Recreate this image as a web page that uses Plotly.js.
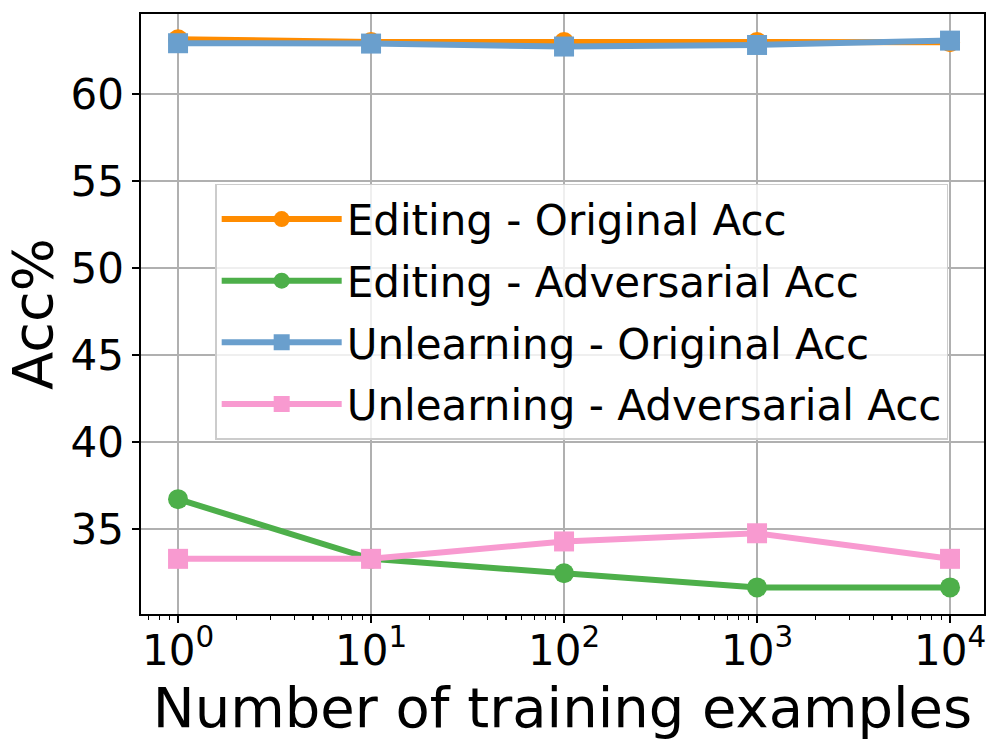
<!DOCTYPE html>
<html>
<head>
<meta charset="utf-8">
<script src="https://cdn.plot.ly/plotly-3.0.1.min.js"></script>
<style>
  html, body { margin: 0; padding: 0; background: #ffffff; }
  #chart { width: 997px; height: 742px; }
</style>
</head>
<body>
<div id="chart"></div>
<script>
// ---- data ----
const trainingExamples = [1, 10, 100, 1000, 10000];
const editingOriginal = [63.16, 63.0, 63.0, 63.0, 62.99];
const editingAdversarial = [36.73, 33.3, 32.47, 31.66, 31.66];
const unlearningOriginal = [62.93, 62.91, 62.74, 62.83, 63.08];
const unlearningAdversarial = [33.3, 33.3, 34.3, 34.77, 33.3];

const seriesNames = [
  "Editing - Original Acc",
  "Editing - Adversarial Acc",
  "Unlearning - Original Acc",
  "Unlearning - Adversarial Acc"
];
const xTickVals = [1, 10, 100, 1000, 10000];
const xTickText = ["10<sup>0</sup>", "10<sup>1</sup>", "10<sup>2</sup>", "10<sup>3</sup>", "10<sup>4</sup>"];
const yTickVals = [35, 40, 45, 50, 55, 60];

const FONT = "DejaVu Sans, sans-serif";

function mk(y, name, color, symbol, group) {
  return {
    x: trainingExamples, y: y, name: name, legendgroup: group,
    type: "scatter", mode: "lines+markers",
    line: { color: color, width: 6 },
    marker: { color: color, size: 20, symbol: symbol, line: { width: 0 } }
  };
}

const traces = [
  mk(editingOriginal, seriesNames[0], "#ff8c00", "circle", "g1"),
  mk(editingAdversarial, seriesNames[1], "#4daf4a", "circle", "g2"),
  mk(unlearningOriginal, seriesNames[2], "#6a9fcd", "square", "g3"),
  mk(unlearningAdversarial, seriesNames[3], "#f89ad0", "square", "g4")
];

const layout = {
  width: 997, height: 742,
  margin: { l: 141, r: 13, t: 14, b: 128 },
  paper_bgcolor: "#ffffff", plot_bgcolor: "#ffffff",
  font: { family: FONT, color: "#000000", size: 40 },
  showlegend: true,
  legend: {
    x: 0.088, y: 0.717, xanchor: "left", yanchor: "top",
    bgcolor: "rgba(255,255,255,0.8)",
    bordercolor: "#cccccc", borderwidth: 1.5,
    font: { family: FONT, size: 42, color: "#000000" },
    itemwidth: 120,
    tracegroupgap: 4
  },
  xaxis: {
    type: "log",
    range: [-0.192, 4.176],
    tickvals: xTickVals, ticktext: xTickText,
    ticks: "outside", ticklen: 7, tickwidth: 1.6, tickcolor: "#000000",
    ticklabelstandoff: -8,
    showgrid: true, gridcolor: "#b0b0b0", gridwidth: 1.6,
    showline: true, linecolor: "#000000", linewidth: 1.6, mirror: true,
    zeroline: false,
    tickfont: { family: FONT, size: 42, color: "#000000" },
    minor: { ticks: "outside", ticklen: 4, tickwidth: 1.2, tickcolor: "#000000", dtick: "D1", showgrid: false },
    title: { text: "Number of training examples", font: { family: FONT, size: 56, color: "#000000" }, standoff: 0 }
  },
  yaxis: {
    range: [30.13, 64.61],
    tickvals: yTickVals,
    ticks: "outside", ticklen: 7, tickwidth: 1.6, tickcolor: "#000000",
    showgrid: true, gridcolor: "#b0b0b0", gridwidth: 1.6,
    showline: true, linecolor: "#000000", linewidth: 1.6, mirror: true,
    zeroline: false,
    tickfont: { family: FONT, size: 42, color: "#000000" },
    title: { text: "Acc%", font: { family: FONT, size: 56, color: "#000000" }, standoff: 8 }
  }
};

Plotly.newPlot("chart", traces, layout, { displayModeBar: false, staticPlot: true });
</script>
</body>
</html>
